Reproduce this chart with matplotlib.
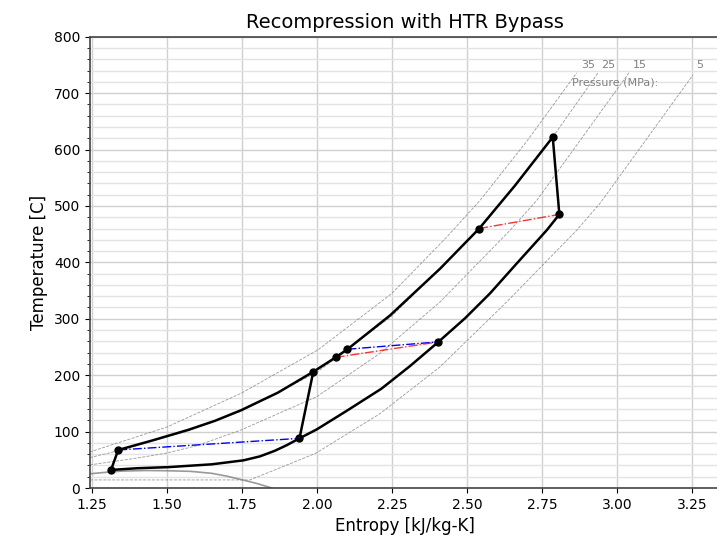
import matplotlib
matplotlib.use("Agg")
import matplotlib.pyplot as plt
from matplotlib.ticker import MultipleLocator

# state points of the cycle (entropy kJ/kg-K, temperature C)
state_s = [1.314, 1.338, 2.063, 2.102, 2.541, 2.786, 2.808, 2.405, 1.942, 1.988]
state_T = [32.0, 67.4, 231.7, 246.0, 460.0, 622.0, 485.0, 259.0, 88.0, 206.0]

# high pressure side, from main compressor outlet up to turbine inlet
high_s = [1.338, 1.45, 1.571, 1.66, 1.748, 1.87, 1.988, 2.063, 2.102, 2.244, 2.411, 2.541, 2.66, 2.786]
high_T = [67.4, 84.0, 103.0, 119.0, 138.0, 169.0, 206.0, 231.7, 246.0, 306.0, 389.0, 460.0, 536.0, 622.0]

# low pressure side, from turbine outlet down to main compressor inlet
low_s = [2.808, 2.766, 2.666, 2.577, 2.494, 2.405, 2.31, 2.215, 2.10, 2.0, 1.942, 1.90, 1.86, 1.81, 1.755, 1.65, 1.505, 1.40, 1.314]
low_T = [485.0, 457.0, 398.0, 345.0, 301.0, 259.0, 216.0, 176.0, 137.0, 104.0, 88.0, 76.0, 66.0, 56.0, 49.0, 42.0, 37.0, 35.0, 32.0]

# recuperator temperature pairings
blue_pairs = [((1.338, 67.4), (1.942, 88.0)), ((2.102, 246.0), (2.405, 259.0))]
red_pairs = [((2.063, 231.7), (2.405, 259.0)), ((2.541, 460.0), (2.808, 485.0))]

# reference isobars
p_labels = ["35", "25", "15", "5"]
iso_s = [
    [1.20, 1.244, 1.50, 1.748, 2.004, 2.25, 2.433, 2.544, 2.70, 2.866],
    [1.20, 1.244, 1.338, 1.571, 1.748, 2.0, 2.25, 2.541, 2.786, 2.937],
    [1.20, 1.244, 1.40, 1.50, 1.60, 1.748, 2.0, 2.211, 2.411, 2.644, 2.733, 3.04],
    [1.20, 1.777, 1.85, 1.92, 1.996, 2.211, 2.411, 2.633, 2.866, 2.944, 3.253],
]
iso_T = [
    [57.0, 64.0, 108.0, 168.0, 245.0, 345.0, 445.0, 510.0, 615.0, 736.0],
    [48.0, 54.0, 66.0, 101.0, 136.0, 205.0, 305.0, 458.0, 622.0, 736.0],
    [36.0, 41.0, 53.0, 62.0, 75.0, 103.0, 162.0, 239.0, 330.0, 457.0, 510.0, 736.0],
    [14.3, 14.3, 30.0, 45.0, 61.5, 132.0, 215.0, 330.0, 457.0, 505.0, 732.0],
]
label_s = [2.905, 2.972, 3.075, 3.277]

# saturation dome
dome_s = [1.20, 1.25, 1.30, 1.35, 1.43, 1.50, 1.58, 1.65, 1.70, 1.755, 1.80, 1.85]
dome_T = [22.0, 25.5, 28.0, 30.0, 31.0, 30.6, 29.5, 26.0, 21.0, 14.0, 8.0, 0.0]

fig = plt.figure(figsize=(7.17, 5.39), dpi=100)
ax = fig.add_axes([90 / 717, 51 / 539, 629 / 717, 451.3 / 539])

for s, T in zip(iso_s, iso_T):
    ax.plot(s, T, color="gray", ls="--", lw=0.6, alpha=0.8, zorder=2)
for lab, x in zip(p_labels, label_s):
    ax.text(x, 749, lab, color="gray", fontsize=8, ha="center", va="center")
ax.text(2.994, 718, "Pressure (MPa):", color="gray", fontsize=8, ha="center", va="center")

ax.plot(dome_s, dome_T, color="gray", lw=1.2, alpha=0.8, zorder=2)

for (a, b) in blue_pairs:
    ax.plot([a[0], b[0]], [a[1], b[1]], color="blue", ls="-.", lw=1.0, zorder=3)
for (a, b) in red_pairs:
    ax.plot([a[0], b[0]], [a[1], b[1]], color="red", ls="-.", lw=1.0, alpha=0.8, zorder=3)

ax.plot(high_s, high_T, color="black", lw=1.8, zorder=4)
ax.plot(low_s, low_T, color="black", lw=1.8, zorder=4)
ax.plot([state_s[0], state_s[1]], [state_T[0], state_T[1]], color="black", lw=1.8, zorder=4)
ax.plot([state_s[5], state_s[6]], [state_T[5], state_T[6]], color="black", lw=1.8, zorder=4)
ax.plot([state_s[8], state_s[9]], [state_T[8], state_T[9]], color="black", lw=1.8, zorder=4)
ax.plot(state_s, state_T, "o", color="black", ms=5, zorder=5)

ax.set_xlim(1.244, 3.34)
ax.set_ylim(0, 800)
ax.xaxis.set_major_locator(MultipleLocator(0.25))
ax.yaxis.set_major_locator(MultipleLocator(100))
ax.yaxis.set_minor_locator(MultipleLocator(20))
ax.grid(which="major", color="#d0d0d0", lw=1.0)
ax.grid(which="minor", axis="y", color="#e3e3e3", lw=1.0)
ax.set_axisbelow(True)
for sp in ax.spines.values():
    sp.set_color("#444444")
    sp.set_linewidth(1.2)

ax.set_title("Recompression with HTR Bypass", fontsize=14)
ax.set_xlabel("Entropy [kJ/kg-K]", fontsize=12)
ax.set_ylabel("Temperature [C]", fontsize=12)
ax.tick_params(labelsize=10)

fig.savefig("out.png", dpi=100)
